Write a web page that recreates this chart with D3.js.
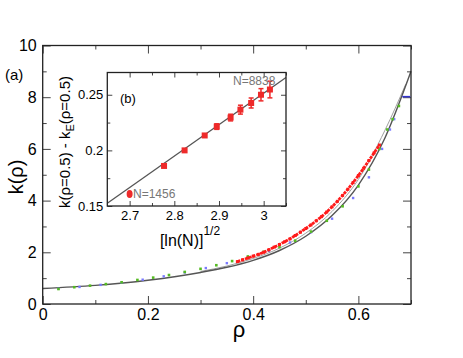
<!DOCTYPE html>
<html>
<head>
<meta charset="utf-8">
<script src="https://cdn.jsdelivr.net/npm/d3@7"></script>
<style>
  body { margin: 0; background: #fff; }
  svg text { font-family: "Liberation Sans", Arial, sans-serif; }
</style>
</head>
<body>
<div class="chart"></div>
<script>
// main panel (a): fit curves
var fitRho = [0, 0.1, 0.2, 0.3, 0.35, 0.4, 0.45, 0.5, 0.55, 0.6, 0.65, 0.7];
var fitK   = [0.6, 0.72, 0.92, 1.22, 1.42, 1.69, 2.07, 2.62, 3.42, 4.6, 6.4, 9.0];
var fit2Rho = [0.3, 0.35, 0.4, 0.45, 0.5, 0.55, 0.6, 0.65, 0.69];
var fit2K   = [1.26, 1.47, 1.76, 2.16, 2.74, 3.58, 4.82, 6.7, 8.5];

// simulation data
var redRho = [0.37, 0.38, 0.39, 0.40, 0.41, 0.42, 0.43, 0.44, 0.45, 0.46, 0.47, 0.48, 0.49, 0.50,
              0.51, 0.52, 0.53, 0.54, 0.55, 0.56, 0.57, 0.58, 0.59, 0.60, 0.61, 0.62, 0.63, 0.64];
var redK   = [1.64, 1.71, 1.78, 1.85, 1.92, 2.0, 2.1, 2.2, 2.3, 2.41, 2.52, 2.65, 2.78, 2.92,
              3.06, 3.22, 3.38, 3.56, 3.76, 3.97, 4.2, 4.44, 4.7, 4.97, 5.25, 5.55, 5.85, 6.15];
var greenRho = [0.03, 0.06, 0.09, 0.12, 0.15, 0.18, 0.21, 0.24, 0.27, 0.30, 0.33, 0.36, 0.39,
                0.42, 0.45, 0.48, 0.51, 0.54, 0.57, 0.60, 0.62, 0.64, 0.655, 0.665, 0.677];
var greenK   = [0.58, 0.65, 0.71, 0.77, 0.84, 0.93, 1.02, 1.12, 1.24, 1.36, 1.5, 1.66, 1.84,
                2.02, 2.2, 2.45, 2.8, 3.22, 3.78, 4.55, 5.2, 6.0, 6.75, 7.15, 7.66];
var blueRho = [0.03, 0.07, 0.11, 0.15, 0.19, 0.23, 0.27, 0.31, 0.35, 0.39, 0.43, 0.47, 0.51,
               0.55, 0.59, 0.62, 0.645, 0.66, 0.668];
var blueK   = [0.59, 0.66, 0.74, 0.83, 0.94, 1.07, 1.22, 1.39, 1.58, 1.8, 2.06, 2.38, 2.78,
               3.3, 4.1, 4.9, 6.0, 6.75, 7.15];
var blueEndRho = [0.691], blueEndK = [8.02];

// inset (b)
var insetX   = [2.70, 2.777, 2.823, 2.868, 2.895, 2.926, 2.948, 2.972, 2.994, 3.014];
var insetY   = [0.1607, 0.186, 0.200, 0.2134, 0.2214, 0.2295, 0.2366, 0.2426, 0.250, 0.2547];
var insetErr = [0.001, 0.001, 0.0012, 0.0015, 0.0025, 0.003, 0.004, 0.0045, 0.0055, 0.0075];
var insetFitX = [2.65, 3.05];
var insetFitY = [0.1524, 0.2655];

var xTicks = [0, 0.2, 0.4, 0.6], xMinor = [0.1, 0.3, 0.5, 0.7];
var yTicks = [0, 2, 4, 6, 8, 10], yMinor = [1, 3, 5, 7, 9];
var ixTicks = [2.7, 2.8, 2.9, 3.0], ixMinor = [2.75, 2.85, 2.95, 3.05];
var iyTicks = [0.15, 0.2, 0.25], iyMinor = [0.175, 0.225];

var W = 463, H = 358;
var svg = d3.select(".chart").append("svg").attr("width", W).attr("height", H);

var x = d3.scaleLinear().domain([0, 0.7]).range([42.7, 411]);
var y = d3.scaleLinear().domain([0, 10]).range([304, 45.5]);

var frameCol = "#222";

function tickAxes(g, xs, ys, xt, xm, yt, ym, major, minor, padX, padY, fs) {
  var x0 = xs.range()[0], x1 = xs.range()[1], y0 = ys.range()[0], y1 = ys.range()[1];
  var fmt = function(d) { return String(d); };
  g.append("g").attr("transform", "translate(0," + y0 + ")")
    .call(d3.axisBottom(xs).tickValues(xt).tickSizeInner(-major).tickSizeOuter(0).tickPadding(padX).tickFormat(fmt));
  g.append("g").attr("transform", "translate(0," + y0 + ")")
    .call(d3.axisBottom(xs).tickValues(xm).tickSizeInner(-minor).tickSizeOuter(0).tickFormat(""));
  g.append("g").attr("transform", "translate(0," + y1 + ")")
    .call(d3.axisTop(xs).tickValues(xt).tickSizeInner(-major).tickSizeOuter(0).tickFormat(""));
  g.append("g").attr("transform", "translate(0," + y1 + ")")
    .call(d3.axisTop(xs).tickValues(xm).tickSizeInner(-minor).tickSizeOuter(0).tickFormat(""));
  g.append("g").attr("transform", "translate(" + x0 + ",0)")
    .call(d3.axisLeft(ys).tickValues(yt).tickSizeInner(-major).tickSizeOuter(0).tickPadding(padY).tickFormat(fmt));
  g.append("g").attr("transform", "translate(" + x0 + ",0)")
    .call(d3.axisLeft(ys).tickValues(ym).tickSizeInner(-minor).tickSizeOuter(0).tickFormat(""));
  g.append("g").attr("transform", "translate(" + x1 + ",0)")
    .call(d3.axisRight(ys).tickValues(yt).tickSizeInner(-major).tickSizeOuter(0).tickFormat(""));
  g.append("g").attr("transform", "translate(" + x1 + ",0)")
    .call(d3.axisRight(ys).tickValues(ym).tickSizeInner(-minor).tickSizeOuter(0).tickFormat(""));
  g.selectAll(".domain").remove();
  g.selectAll(".tick line").attr("stroke", "#444");
  g.selectAll(".tick text").attr("fill", "#000").style("font-size", fs + "px")
    .style("font-family", "'Liberation Sans', Arial, sans-serif");
  g.append("rect").attr("x", x0).attr("y", y1).attr("width", x1 - x0).attr("height", y0 - y1)
    .attr("fill", "none").attr("stroke", frameCol).attr("stroke-width", 1.3);
}

// ---- main panel ----
var main = svg.append("g");

var line = d3.line().x(function(d) { return x(d[0]); }).y(function(d) { return y(d[1]); }).curve(d3.curveMonotoneX);

main.append("path").datum(d3.zip(fit2Rho, fit2K)).attr("d", line)
  .attr("fill", "none").attr("stroke", "#a0a0a0").attr("stroke-width", 1);
main.append("path").datum(d3.zip(fitRho, fitK)).attr("d", line)
  .attr("fill", "none").attr("stroke", "#555").attr("stroke-width", 1.4);

main.selectAll(".blue").data(d3.zip(blueRho, blueK)).enter().append("rect")
  .attr("x", function(d) { return x(d[0]) - 1.2; }).attr("y", function(d) { return y(d[1]) - 1.2; })
  .attr("width", 2.4).attr("height", 2.4).attr("fill", "#7a7aff");
main.selectAll(".green").data(d3.zip(greenRho, greenK)).enter().append("rect")
  .attr("x", function(d) { return x(d[0]) - 1.3; }).attr("y", function(d) { return y(d[1]) - 1.3; })
  .attr("width", 2.6).attr("height", 2.6).attr("fill", "#55bb22");

var redLine = d3.line().x(function(d) { return x(d[0]); }).y(function(d) { return y(d[1]); });
main.append("path").datum(d3.zip(redRho, redK)).attr("d", redLine)
  .attr("fill", "none").attr("stroke", "#ff1a1a").attr("stroke-width", 2.8).attr("stroke-dasharray", "3,1");
main.selectAll(".red").data(d3.zip(redRho, redK)).enter().append("rect")
  .attr("x", function(d) { return x(d[0]) - 1.5; }).attr("y", function(d) { return y(d[1]) - 1.5; })
  .attr("width", 3).attr("height", 3).attr("fill", "#ff1a1a");

tickAxes(main, x, y, xTicks, xMinor, yTicks, yMinor, 8, 4, 5, 6, 16);

// blue end point sits over the right-hand tick at 8
main.selectAll(".blueEnd").data(d3.zip(blueEndRho, blueEndK)).enter().append("line")
  .attr("x1", function(d) { return x(d[0]) - 4; }).attr("x2", function(d) { return Math.min(x(d[0]) + 4, x.range()[1]); })
  .attr("y1", function(d) { return y(d[1]); }).attr("y2", function(d) { return y(d[1]); })
  .attr("stroke", "#3333cc").attr("stroke-width", 1.6);

main.append("text").attr("x", 5).attr("y", 80).style("font-size", "15px").text("(a)");
main.append("text").attr("x", 239).attr("y", 337).attr("text-anchor", "middle")
  .style("font-size", "22px").text("ρ");
main.append("text").attr("transform", "translate(23,177) rotate(-90)").attr("text-anchor", "middle")
  .style("font-size", "20px").text("k(ρ)");

// ---- inset ----
var xi = d3.scaleLinear().domain([2.65, 3.05]).range([107.3, 286]);
var yi = d3.scaleLinear().domain([0.15, 0.27]).range([206, 72.5]);
var inset = svg.append("g");
inset.append("rect").attr("x", 107.3).attr("y", 72.5).attr("width", 286 - 107.3).attr("height", 206 - 72.5)
  .attr("fill", "#fff");

inset.append("line")
  .attr("x1", xi(insetFitX[0])).attr("y1", yi(insetFitY[0]))
  .attr("x2", xi(insetFitX[1])).attr("y2", yi(insetFitY[1]))
  .attr("stroke", "#555").attr("stroke-width", 1.3);

var pts = d3.range(insetX.length).map(function(i) { return { x: insetX[i], y: insetY[i], e: insetErr[i], i: i }; });
var eb = inset.selectAll(".eb").data(pts.filter(function(d) { return d.i > 3; })).enter().append("g");
eb.append("line").attr("x1", function(d) { return xi(d.x); }).attr("x2", function(d) { return xi(d.x); })
  .attr("y1", function(d) { return yi(d.y - d.e); }).attr("y2", function(d) { return yi(d.y + d.e); })
  .attr("stroke", "#ee2a2a").attr("stroke-width", 1.5);
eb.append("line").attr("x1", function(d) { return xi(d.x) - 2.5; }).attr("x2", function(d) { return xi(d.x) + 2.5; })
  .attr("y1", function(d) { return yi(d.y + d.e); }).attr("y2", function(d) { return yi(d.y + d.e); })
  .attr("stroke", "#ee2a2a").attr("stroke-width", 1.5);
eb.append("line").attr("x1", function(d) { return xi(d.x) - 2.5; }).attr("x2", function(d) { return xi(d.x) + 2.5; })
  .attr("y1", function(d) { return yi(d.y - d.e); }).attr("y2", function(d) { return yi(d.y - d.e); })
  .attr("stroke", "#ee2a2a").attr("stroke-width", 1.5);

inset.selectAll(".sq").data(pts.filter(function(d) { return d.i > 0; })).enter().append("rect")
  .attr("x", function(d) { return xi(d.x) - 3; }).attr("y", function(d) { return yi(d.y) - 3; })
  .attr("width", 6).attr("height", 6).attr("fill", "#ee2a2a");
inset.selectAll(".circ").data(pts.filter(function(d) { return d.i === 0; })).enter().append("ellipse")
  .attr("cx", function(d) { return xi(d.x); }).attr("cy", function(d) { return yi(d.y); })
  .attr("rx", 3).attr("ry", 4).attr("fill", "#ee2a2a");

tickAxes(inset, xi, yi, ixTicks, ixMinor, iyTicks, iyMinor, 5, 3, 5, 4, 13);

inset.append("text").attr("x", 120).attr("y", 103).style("font-size", "13px").text("(b)");
inset.append("text").attr("x", 133).attr("y", 198).style("font-size", "12px").attr("fill", "#777").text("N=1456");
inset.append("text").attr("x", 233).attr("y", 85).style("font-size", "12px").attr("fill", "#777").text("N=8838");

var ylab = inset.append("text").attr("transform", "translate(70,142) rotate(-90)").attr("text-anchor", "middle")
  .style("font-size", "15px");
ylab.append("tspan").text("k(ρ=0.5) - k");
ylab.append("tspan").attr("dy", 4).style("font-size", "11px").text("E");
ylab.append("tspan").attr("dy", -4).text("(ρ=0.5)");

var xlab = inset.append("text").attr("x", 190).attr("y", 246).attr("text-anchor", "middle")
  .style("font-size", "16px");
xlab.append("tspan").text("[ln(N)]");
xlab.append("tspan").attr("dy", -11).style("font-size", "12px").text("1/2");
</script>
</body>
</html>
